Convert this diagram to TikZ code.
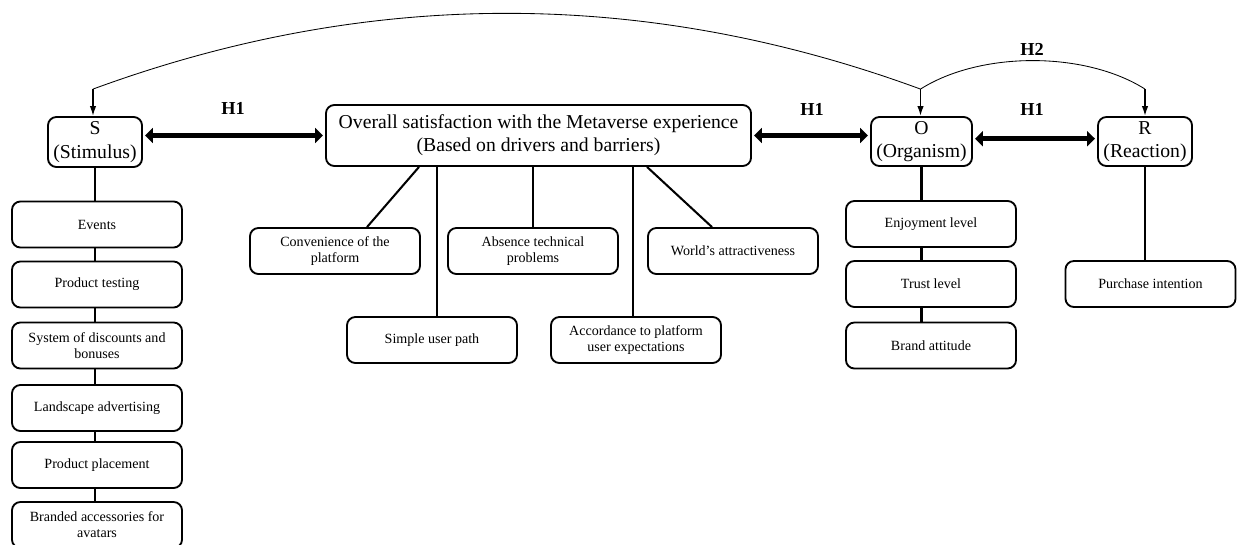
\documentclass[tikz,border=0pt]{standalone}
\usepackage{fontspec}
\setmainfont{Liberation Serif}
\usetikzlibrary{calc,arrows.meta}

\tikzset{
	mainbox/.style={draw, line width=1.3pt, rounded corners=6pt, align=center, inner sep=0pt,
		font=\fontsize{14}{16.5}\selectfont},
	itembox/.style={draw, line width=1.3pt, rounded corners=6pt, align=center, inner sep=0pt,
		minimum width=4.25cm, minimum height=1.15cm, font=\fontsize{10}{11.5}\selectfont},
	link/.style={line width=1.45pt},
	hyparrow/.style={line width=3.6pt, {Triangle[length=5.5pt,width=10.5pt]}-{Triangle[length=5.5pt,width=10.5pt]}, shorten <=1.5pt, shorten >=1.5pt},
	downarrow/.style={line width=1.1pt, -{Latex[length=7pt,width=4.5pt]}},
	hcurve/.style={line width=0.6pt},
	hlabel/.style={font=\fontsize{13}{15}\bfseries\selectfont}
}

\begin{document}
\begin{tikzpicture}[x=0.025cm, y=-0.025cm]
			%%%%% START %%%%%
			\useasboundingbox (0,0) rectangle (1237,545);
			
			\node[mainbox, minimum width=2.35cm, minimum height=1.25cm] (S) at (95,142) {S\\(Stimulus)};
			\node[mainbox, minimum width=10.625cm, minimum height=1.525cm] (Overall) at (538.5,135.5) {Overall satisfaction with the Metaverse experience\\(Based on drivers and barriers)};
			\node[mainbox, minimum width=2.525cm, minimum height=1.225cm] (O) at (921.5,141.5) {O\\(Organism)};
			\node[mainbox, minimum width=2.35cm, minimum height=1.225cm] (R) at (1145,141.5) {R\\(Reaction)};
			
			% stimulus column
			\node[itembox] (events) at (97,224.5) {Events};
			\node[itembox] (testing) at (97,284.5) {Product testing};
			\node[itembox] (discounts) at (97,345.5) {System of discounts and\\bonuses};
			\node[itembox] (landscape) at (97,408) {Landscape advertising};
			\node[itembox] (placement) at (97,465) {Product placement};
			\node[itembox] (accessories) at (97,525) {Branded accessories for\\avatars};
			
			% drivers and barriers
			\node[itembox] (convenience) at (335,251) {Convenience of the\\platform};
			\node[itembox] (technical) at (533,251) {Absence technical\\problems};
			\node[itembox] (attractive) at (733,251) {World's attractiveness};
			\node[itembox] (userpath) at (432,340) {Simple user path};
			\node[itembox] (accordance) at (636,340) {Accordance to platform\\user expectations};
			
			% organism column
			\node[itembox] (enjoyment) at (931,224) {Enjoyment level};
			\node[itembox] (trust) at (931,284) {Trust level};
			\node[itembox] (attitude) at (931,345.5) {Brand attitude};
			
			\node[itembox] (purchase) at (1150.5,284) {Purchase intention};
			
			% hypotheses
			\node[hlabel] (h1a) at (233,108) {H1};
			\node[hlabel] (h1b) at (812,109) {H1};
			\node[hlabel] (h1c) at (1032,109) {H1};
			\node[hlabel] (h2) at (1032,49) {H2};
			
			\draw[hyparrow] (S.east |- Overall.west) -- (Overall.west);
			\draw[hyparrow] (Overall.east) -- (O.west |- Overall.east);
			\draw[hyparrow] ([yshift=2pt]O.east) -- ([yshift=2pt]R.west);
			
			\coordinate (sTop) at ($(S.north)+(-2,-27)$);
			\coordinate (oTop) at ($(O.north)+(-1,-27)$);
			\coordinate (rTop) at ($(R.north)+(0,-27)$);
			
			\draw[hcurve] (sTop) .. controls ($(sTop)+(275,-101)$) and ($(oTop)+(-275,-101)$) .. (oTop);
			\draw[hcurve] (oTop) .. controls ($(oTop)+(60,-38)$) and ($(rTop)+(-60,-38)$) .. (rTop);
			\draw[downarrow] (sTop) -- (sTop |- S.north);
			\draw[downarrow] (oTop) -- (oTop |- O.north);
			\draw[downarrow] (rTop) -- (rTop |- R.north);
			
			\draw[link] (S.south) -- (S.south |- events.north);
			\draw[link] (S |- events.south) -- (S |- testing.north);
			\draw[link] (S |- testing.south) -- (S |- discounts.north);
			\draw[link] (S |- discounts.south) -- (S |- landscape.north);
			\draw[link] (S |- landscape.south) -- (S |- placement.north);
			\draw[link] (S |- placement.south) -- (S |- accessories.north);
			
			\draw[link] ($(Overall.south west)+(94,0)$) -- ($(convenience.north)+(32,0)$);
			\draw[link] ($(userpath.north)+(5,0)$) -- ($(userpath.north |- Overall.south)+(5,0)$);
			\draw[link] (technical.north) -- (technical.north |- Overall.south);
			\draw[link] ($(accordance.north)+(-3,0)$) -- ($(accordance.north |- Overall.south)+(-3,0)$);
			\draw[link] ($(Overall.south west)+(322,0)$) -- ($(attractive.north)+(-21,0)$);
			
			\draw[link] (O.south) -- (O.south |- enjoyment.north);
			\draw[link] (O |- enjoyment.south) -- (O |- trust.north);
			\draw[link] (O |- trust.south) -- (O |- attitude.north);
			\draw[link] (R.south) -- (R.south |- purchase.north);
			%%%%% END %%%%%
\end{tikzpicture}
\end{document}
